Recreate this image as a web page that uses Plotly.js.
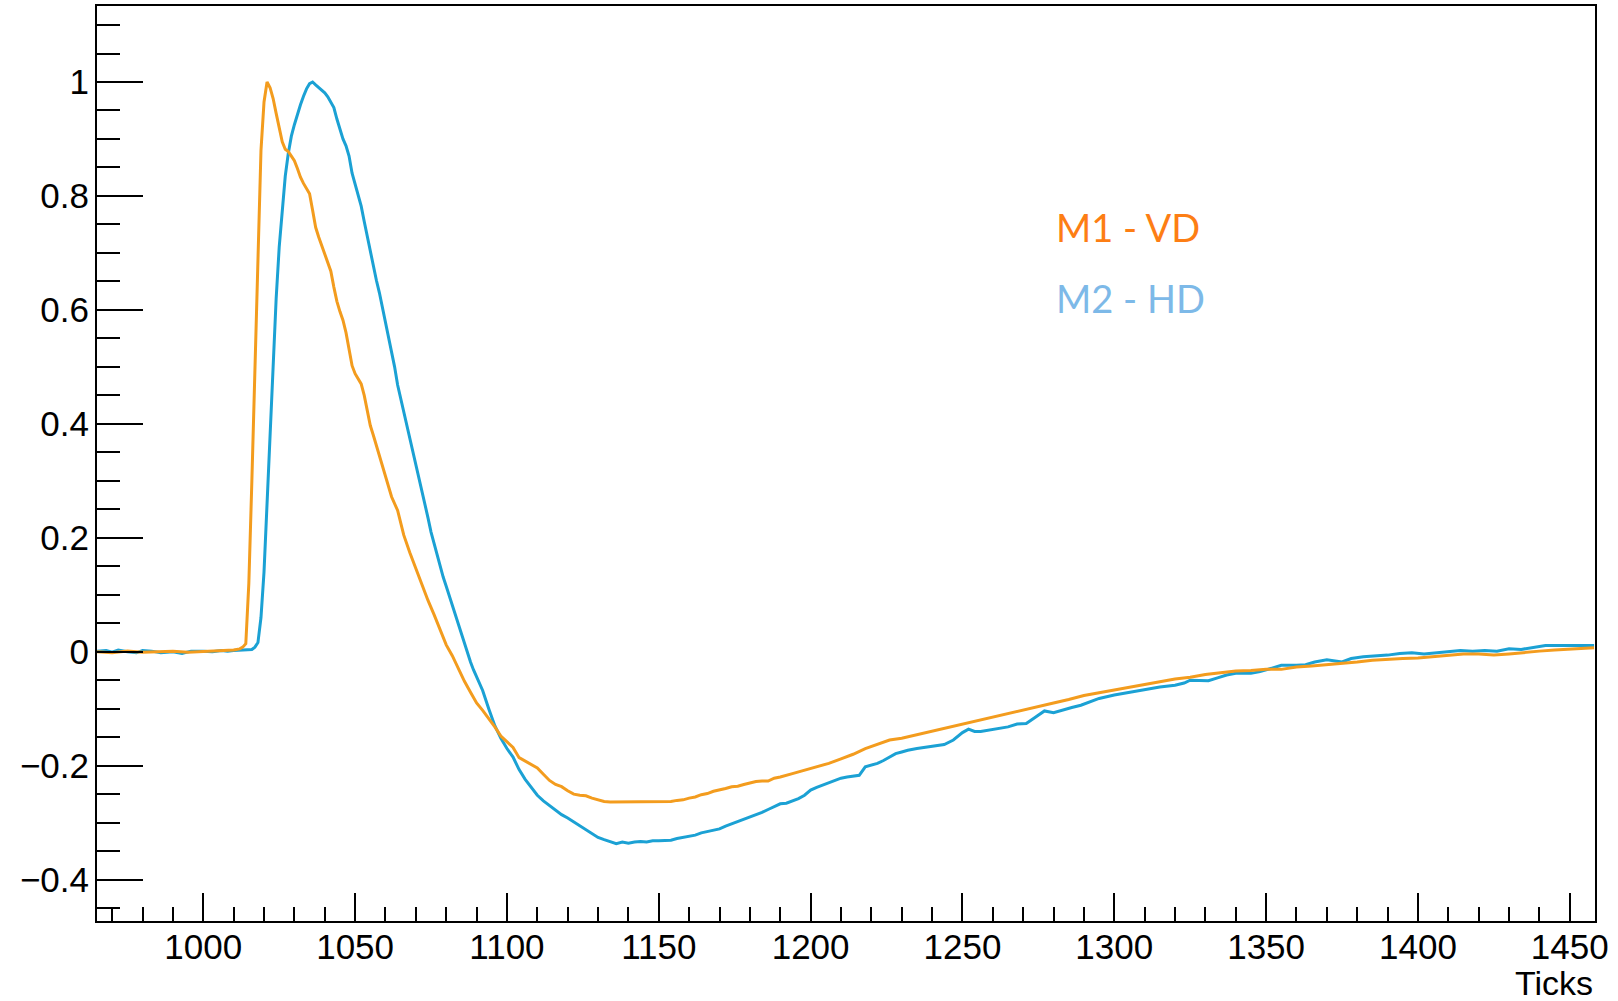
<!DOCTYPE html>
<html>
<head>
<meta charset="utf-8">
<script src="https://cdn.plot.ly/plotly-3.0.1.min.js"></script>
<style>html,body{margin:0;padding:0;background:#fff;}#plot{width:1618px;height:1001px;}</style>
</head>
<body>
<div id="plot"></div>
<script>
// M1 - VD (orange)
const ticksM1 = [965,970,975,980,985,990,995,1000,1005,1010,1012,1013,1014,1015,1016,1017,1018,1019,1020,1021,1022,1023,1024,1025,1026,1027,1028,1029,1030,1031,1032,1033,1034,1035,1036,1037,1038,1039,1040,1041,1042,1043,1044,1045,1046,1047,1048,1049,1050,1051,1052,1053,1054,1055,1056,1057,1058,1059,1060,1062,1064,1066,1068,1070,1072,1074,1076,1078,1080,1082,1084,1086,1088,1090,1092,1094,1096,1098,1100,1102,1104,1106,1108,1110,1112,1114,1116,1118,1120,1122,1124,1126,1128,1130,1132,1134,1140,1146,1152,1154,1156,1158,1160,1162,1164,1166,1168,1170,1172,1174,1176,1178,1180,1182,1184,1186,1188,1190,1194,1198,1202,1206,1210,1214,1218,1222,1226,1230,1234,1238,1242,1246,1250,1255,1260,1265,1270,1275,1280,1285,1290,1295,1300,1305,1310,1315,1320,1325,1330,1335,1340,1345,1350,1355,1360,1365,1370,1375,1380,1385,1390,1395,1400,1405,1410,1415,1420,1425,1430,1435,1440,1445,1450,1455,1458];
const valuesM1 = [0.000,-0.002,0.001,-0.001,0.000,0.001,-0.001,0.000,0.002,0.003,0.005,0.008,0.014,0.12,0.30,0.48,0.66,0.88,0.965,1.000,0.990,0.971,0.945,0.920,0.895,0.882,0.878,0.870,0.862,0.848,0.833,0.822,0.812,0.804,0.775,0.745,0.728,0.712,0.697,0.684,0.668,0.640,0.615,0.597,0.582,0.560,0.530,0.502,0.488,0.480,0.470,0.450,0.420,0.397,0.380,0.362,0.345,0.327,0.305,0.272,0.248,0.205,0.174,0.145,0.117,0.090,0.065,0.040,0.012,-0.007,-0.030,-0.052,-0.071,-0.090,-0.103,-0.117,-0.132,-0.148,-0.158,-0.168,-0.186,-0.192,-0.198,-0.204,-0.215,-0.226,-0.233,-0.237,-0.244,-0.250,-0.252,-0.253,-0.257,-0.260,-0.263,-0.264,-0.264,-0.264,-0.264,-0.263,-0.261,-0.260,-0.257,-0.255,-0.251,-0.249,-0.245,-0.243,-0.240,-0.237,-0.236,-0.233,-0.230,-0.228,-0.227,-0.227,-0.222,-0.220,-0.214,-0.208,-0.202,-0.196,-0.188,-0.180,-0.170,-0.162,-0.155,-0.152,-0.147,-0.142,-0.137,-0.132,-0.127,-0.120,-0.114,-0.108,-0.102,-0.096,-0.090,-0.084,-0.077,-0.072,-0.067,-0.062,-0.057,-0.053,-0.048,-0.045,-0.040,-0.037,-0.034,-0.033,-0.031,-0.031,-0.027,-0.025,-0.023,-0.020,-0.018,-0.015,-0.013,-0.012,-0.011,-0.009,-0.007,-0.004,-0.004,-0.006,-0.004,-0.001,0.001,0.003,0.005,0.007,0.007];

// M2 - HD (blue)
const ticksM2 = [965,968,970,972,975,978,980,983,986,990,993,996,1000,1003,1006,1008,1010,1013,1016,1017,1018,1019,1020,1021,1022,1023,1024,1025,1026,1027,1028,1029,1030,1031,1032,1033,1034,1035,1036,1037,1038,1039,1040,1041,1042,1043,1044,1045,1046,1047,1048,1049,1050,1051,1052,1053,1054,1055,1056,1057,1058,1059,1060,1061,1062,1063,1064,1065,1066,1067,1068,1069,1070,1071,1072,1073,1074,1075,1076,1077,1078,1079,1080,1081,1082,1083,1084,1085,1086,1087,1088,1089,1090,1091,1092,1094,1096,1098,1100,1102,1104,1106,1108,1110,1112,1114,1116,1118,1120,1122,1124,1126,1128,1130,1132,1134,1136,1138,1140,1142,1144,1146,1148,1150,1152,1154,1156,1158,1160,1162,1164,1166,1168,1170,1172,1174,1176,1178,1180,1182,1184,1186,1188,1190,1192,1194,1196,1198,1200,1202,1204,1206,1208,1210,1212,1214,1216,1218,1220,1222,1224,1226,1228,1230,1232,1235,1238,1241,1244,1247,1250,1252,1254,1256,1259,1262,1265,1268,1271,1274,1277,1280,1283,1286,1289,1292,1295,1300,1305,1310,1315,1320,1323,1325,1328,1331,1334,1337,1340,1345,1348,1351,1355,1360,1363,1366,1370,1375,1378,1382,1386,1390,1394,1398,1402,1406,1410,1414,1418,1422,1426,1430,1434,1438,1442,1446,1450,1454,1458];
const valuesM2 = [0.001,0.002,-0.001,0.003,0.000,-0.002,0.002,0.001,-0.002,0.000,-0.003,0.001,0.001,0.000,0.002,0.001,0.002,0.003,0.004,0.008,0.016,0.06,0.14,0.26,0.39,0.51,0.62,0.71,0.78,0.835,0.875,0.905,0.925,0.945,0.960,0.975,0.988,0.997,1.000,0.995,0.990,0.986,0.981,0.974,0.965,0.955,0.935,0.916,0.900,0.888,0.870,0.840,0.820,0.802,0.782,0.755,0.728,0.702,0.680,0.652,0.630,0.605,0.575,0.552,0.527,0.500,0.468,0.445,0.420,0.395,0.372,0.350,0.328,0.308,0.283,0.260,0.235,0.210,0.190,0.170,0.150,0.131,0.115,0.098,0.082,0.066,0.048,0.030,0.013,-0.003,-0.018,-0.032,-0.045,-0.056,-0.068,-0.100,-0.130,-0.152,-0.170,-0.185,-0.207,-0.224,-0.238,-0.252,-0.262,-0.270,-0.279,-0.286,-0.292,-0.299,-0.306,-0.313,-0.320,-0.326,-0.330,-0.333,-0.337,-0.334,-0.336,-0.334,-0.333,-0.334,-0.332,-0.332,-0.332,-0.331,-0.328,-0.326,-0.324,-0.322,-0.318,-0.316,-0.314,-0.311,-0.306,-0.302,-0.299,-0.295,-0.290,-0.287,-0.282,-0.277,-0.272,-0.267,-0.266,-0.262,-0.258,-0.252,-0.243,-0.238,-0.234,-0.230,-0.226,-0.222,-0.220,-0.219,-0.217,-0.202,-0.199,-0.196,-0.191,-0.185,-0.179,-0.176,-0.173,-0.170,-0.168,-0.166,-0.163,-0.155,-0.142,-0.136,-0.140,-0.140,-0.137,-0.135,-0.132,-0.127,-0.126,-0.115,-0.104,-0.107,-0.102,-0.098,-0.094,-0.088,-0.082,-0.076,-0.071,-0.066,-0.062,-0.059,-0.055,-0.050,-0.050,-0.051,-0.046,-0.041,-0.038,-0.038,-0.035,-0.030,-0.024,-0.024,-0.023,-0.018,-0.014,-0.018,-0.012,-0.009,-0.008,-0.006,-0.003,-0.002,-0.004,-0.002,0.000,0.002,0.001,0.002,0.001,0.005,0.004,0.007,0.011,0.011,0.011,0.010,0.011];

const seriesNames = ["M1 - VD", "M2 - HD"];
const axisTitleX = "Ticks";

const tickFont = {family: "'Liberation Sans', Arial, Helvetica, sans-serif", size: 35, color: "#000"};

const traces = [
  {x: ticksM2, y: valuesM2, type: "scatter", mode: "lines", name: seriesNames[1],
   line: {color: "#1ba1d4", width: 3}, hoverinfo: "skip"},
  {x: ticksM1, y: valuesM1, type: "scatter", mode: "lines", name: seriesNames[0],
   line: {color: "#f39c1e", width: 3}, hoverinfo: "skip"}
];

const layout = {
  width: 1618, height: 1001,
  margin: {l: 97, r: 23, t: 6, b: 80, pad: 0},
  paper_bgcolor: "#fff", plot_bgcolor: "#fff",
  showlegend: false,
  xaxis: {
    range: [965, 1458.3], showgrid: false, zeroline: false,
    showline: true, mirror: true, linecolor: "#000", linewidth: 2,
    ticks: "inside", ticklen: 28, tickwidth: 2, tickcolor: "#000",
    tick0: 0, dtick: 50, tickfont: tickFont, ticklabelstandoff: -6,
    minor: {dtick: 10, ticks: "inside", ticklen: 14, tickwidth: 2, tickcolor: "#000", showgrid: false}
  },
  yaxis: {
    range: [-0.4727, 1.1334], showgrid: false, zeroline: false,
    showline: true, mirror: true, linecolor: "#000", linewidth: 2,
    ticks: "inside", ticklen: 46, tickwidth: 2, tickcolor: "#000",
    tick0: 0, dtick: 0.2, tickfont: tickFont, ticklabelstandoff: -1,
    minor: {dtick: 0.05, ticks: "inside", ticklen: 23, tickwidth: 2, tickcolor: "#000", showgrid: false}
  },
  annotations: [
    {text: axisTitleX, xref: "paper", yref: "paper", x: 1, y: (921 - 1004) / 915, xanchor: "right", yanchor: "bottom",
     showarrow: false, font: {family: "'Liberation Sans', Arial, Helvetica, sans-serif", size: 34, color: "#000"}},
    {text: seriesNames[0], xref: "paper", yref: "paper", x: (1054 - 97) / 1498, y: (921 - 226.5) / 915,
     xanchor: "left", yanchor: "middle", showarrow: false,
     font: {family: "Lato, 'Open Sans', sans-serif", size: 38, color: "#fd7e14"}},
    {text: seriesNames[1], xref: "paper", yref: "paper", x: (1054 - 97) / 1498, y: (921 - 297.5) / 915,
     xanchor: "left", yanchor: "middle", showarrow: false,
     font: {family: "Lato, 'Open Sans', sans-serif", size: 38, color: "#7db9e8"}}
  ]
};

Plotly.newPlot("plot", traces, layout, {staticPlot: true, displayModeBar: false});
</script>
</body>
</html>
